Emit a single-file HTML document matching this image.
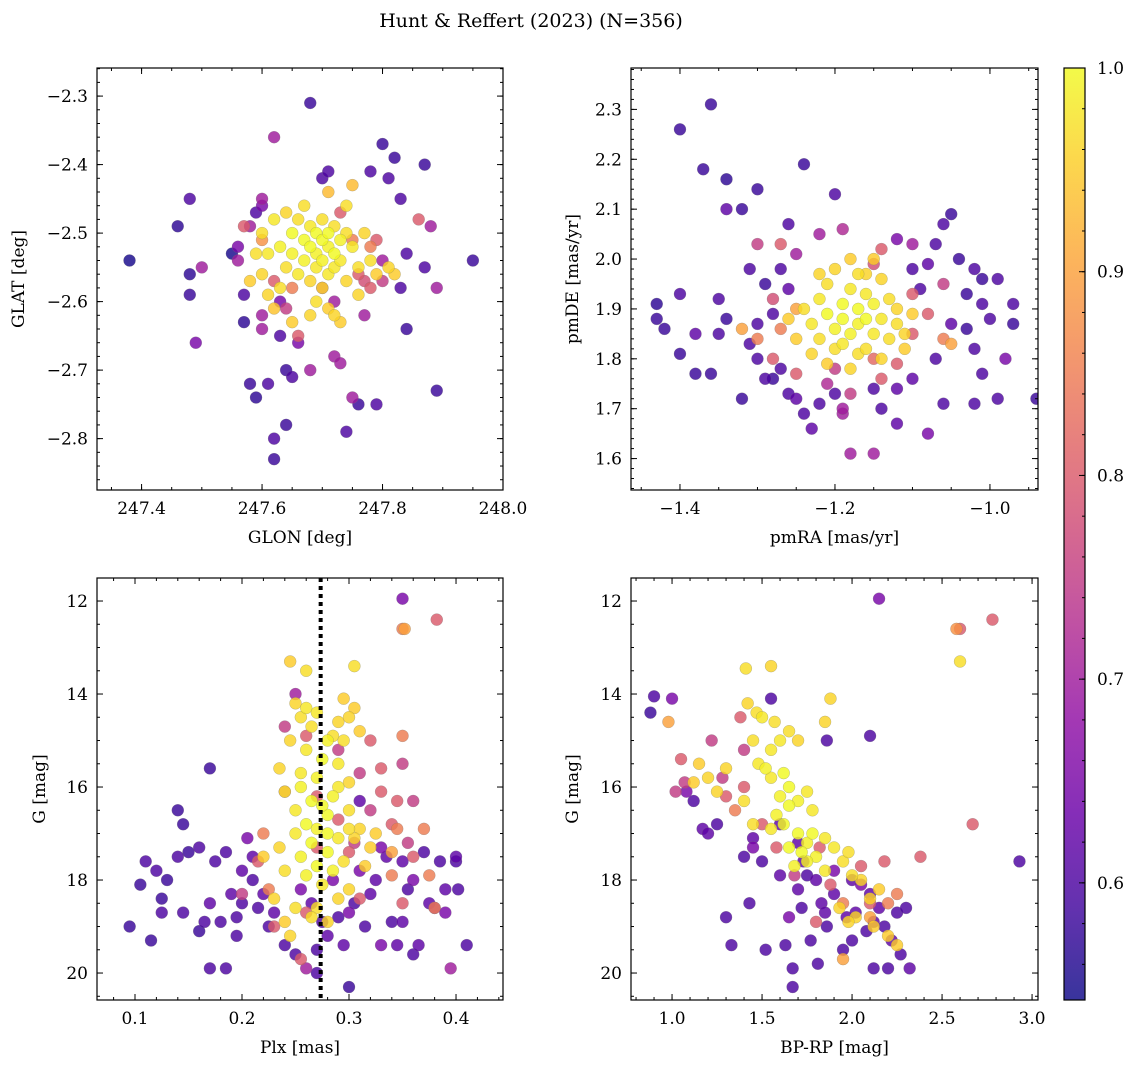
<!DOCTYPE html>
<html><head><meta charset="utf-8"><style>
body{margin:0;background:#fff;}
svg{display:block;font-family:"DejaVu Serif","Liberation Serif",serif;}
</style></head><body>
<svg id="fig" width="1136" height="1067" viewBox="0 0 1136 1067" xmlns="http://www.w3.org/2000/svg">
<defs><linearGradient id="cbg" x1="0" y1="1" x2="0" y2="0"></linearGradient></defs>
<text x="531" y="27" font-size="19" text-anchor="middle">Hunt &amp; Reffert (2023) (N=356)</text>
</svg>
<script>
// ---- data arrays: [x, y, membership probability]
const posData = [[247.38,-2.54,.55],[247.46,-2.49,.57],[247.48,-2.45,.6],[247.48,-2.56,.57],[247.48,-2.59,.58],[247.49,-2.66,.65],[247.5,-2.55,.7],[247.55,-2.53,.55],[247.56,-2.52,.65],[247.56,-2.54,.7],[247.57,-2.59,.6],[247.57,-2.63,.57],[247.58,-2.72,.58],[247.59,-2.74,.57],[247.6,-2.64,.7],[247.61,-2.72,.6],[247.62,-2.8,.6],[247.62,-2.83,.58],[247.62,-2.36,.7],[247.63,-2.65,.6],[247.64,-2.78,.58],[247.64,-2.7,.58],[247.65,-2.71,.6],[247.66,-2.66,.65],[247.68,-2.31,.58],[247.68,-2.7,.7],[247.7,-2.42,.6],[247.71,-2.41,.6],[247.72,-2.68,.7],[247.73,-2.69,.7],[247.74,-2.79,.6],[247.75,-2.74,.7],[247.76,-2.75,.58],[247.78,-2.41,.6],[247.79,-2.75,.6],[247.8,-2.37,.58],[247.81,-2.42,.6],[247.82,-2.39,.58],[247.83,-2.45,.6],[247.83,-2.58,.6],[247.84,-2.64,.58],[247.84,-2.53,.6],[247.87,-2.4,.58],[247.87,-2.55,.6],[247.86,-2.48,.8],[247.88,-2.49,.7],[247.89,-2.58,.7],[247.89,-2.73,.58],[247.95,-2.54,.58],[247.6,-2.45,.7],[247.6,-2.46,.65],[247.59,-2.47,.6],[247.58,-2.49,.7],[247.57,-2.49,.8],[247.6,-2.62,.7],[247.63,-2.6,.65],[247.62,-2.57,.8],[247.66,-2.65,.8],[247.7,-2.58,.75],[247.72,-2.6,.7],[247.75,-2.43,.93],[247.71,-2.44,.93],[247.73,-2.47,.8],[247.76,-2.56,.8],[247.78,-2.58,.8],[247.8,-2.57,.75],[247.77,-2.62,.7],[247.8,-2.54,.7],[247.78,-2.52,.85],[247.79,-2.51,.8],[247.65,-2.58,.85],[247.64,-2.61,.75],[247.75,-2.51,.85],[247.6,-2.51,.88],[247.77,-2.57,.78],
[247.60,-2.50,.97],[247.62,-2.48,.98],[247.63,-2.52,.99],[247.64,-2.55,.97],[247.65,-2.50,1],[247.65,-2.53,.99],[247.66,-2.56,.98],[247.66,-2.48,.97],[247.67,-2.51,1],[247.67,-2.54,.99],[247.68,-2.49,.98],[247.68,-2.52,1],[247.68,-2.57,.96],[247.69,-2.50,1],[247.69,-2.53,.99],[247.69,-2.55,.98],[247.70,-2.48,.97],[247.70,-2.51,1],[247.70,-2.54,.99],[247.70,-2.58,.96],[247.71,-2.50,1],[247.71,-2.52,.99],[247.71,-2.56,.98],[247.72,-2.49,.97],[247.72,-2.53,1],[247.72,-2.55,.98],[247.73,-2.51,.99],[247.73,-2.54,.98],[247.74,-2.50,.97],[247.74,-2.57,.96],[247.75,-2.52,.98],[247.76,-2.55,.97],[247.77,-2.50,.96],[247.78,-2.54,.97],[247.79,-2.56,.95],[247.81,-2.55,.96],[247.82,-2.56,.95],[247.60,-2.56,.96],[247.59,-2.53,.97],[247.58,-2.57,.95],[247.61,-2.59,.96],[247.62,-2.61,.94],[247.65,-2.63,.95],[247.68,-2.62,.96],[247.71,-2.61,.95],[247.73,-2.63,.95],[247.74,-2.46,.97],[247.72,-2.62,.96],[247.67,-2.46,.97],[247.64,-2.47,.96],[247.69,-2.60,.97],[247.76,-2.59,.96],[247.63,-2.58,.97],[247.61,-2.53,.98]];

const pmData = [[-1.40,2.26,.58],[-1.36,2.31,.58],[-1.37,2.18,.58],[-1.34,2.16,.57],[-1.32,2.10,.58],[-1.34,2.10,.62],[-1.3,2.14,.58],[-1.24,2.19,.58],[-1.2,2.13,.6],[-1.26,2.07,.6],[-1.43,1.91,.57],[-1.43,1.88,.58],[-1.42,1.86,.58],[-1.40,1.93,.6],[-1.40,1.81,.58],[-1.38,1.77,.58],[-1.36,1.77,.58],[-1.38,1.85,.62],[-1.35,1.92,.6],[-1.35,1.85,.6],[-1.34,1.88,.58],[-1.32,1.72,.58],[-1.31,1.83,.6],[-1.30,1.80,.6],[-1.30,1.87,.6],[-1.29,1.95,.58],[-1.28,1.76,.58],[-1.27,1.98,.6],[-1.26,1.73,.6],[-1.25,1.72,.62],[-1.24,1.69,.6],[-1.23,1.66,.62],[-1.22,1.71,.6],[-1.2,1.73,.6],[-1.19,1.69,.7],[-1.18,1.61,.7],[-1.15,1.61,.7],[-1.14,1.70,.6],[-1.12,1.67,.62],[-1.08,1.65,.65],[-1.06,1.71,.6],[-1.02,1.71,.6],[-0.99,1.72,.6],[-0.94,1.72,.58],[-0.92,1.71,.58],[-1.05,2.09,.58],[-1.06,2.07,.6],[-1.07,2.03,.6],[-1.04,2.00,.58],[-1.02,1.98,.6],[-1.01,1.96,.58],[-0.99,1.96,.6],[-1.03,1.93,.58],[-1.01,1.91,.6],[-1.03,1.86,.58],[-0.97,1.91,.6],[-0.97,1.87,.58],[-0.98,1.80,.65],[-1.01,1.77,.6],[-1.02,1.82,.6],[-1.0,1.88,.6],[-1.08,1.99,.62],[-1.1,1.98,.6],[-1.12,2.04,.65],[-1.09,1.94,.6],[-1.05,1.87,.62],[-1.07,1.80,.6],[-1.1,1.76,.62],[-1.12,1.74,.62],[-1.15,1.74,.6],[-1.27,1.78,.6],[-1.29,1.76,.6],[-1.31,1.98,.6],[-1.26,1.94,.62],[-1.28,1.89,.6],
[-1.30,2.03,.75],[-1.27,2.03,.8],[-1.25,2.01,.7],[-1.22,2.05,.7],[-1.19,2.06,.72],[-1.14,2.02,.8],[-1.1,2.03,.7],[-1.15,1.99,.78],[-1.1,1.93,.8],[-1.06,1.95,.75],[-1.08,1.89,.8],[-1.06,1.84,.85],[-1.05,1.83,.9],[-1.1,1.85,.8],[-1.12,1.79,.8],[-1.15,1.80,.82],[-1.2,1.78,.75],[-1.25,1.77,.8],[-1.28,1.8,.8],[-1.3,1.84,.85],[-1.32,1.86,.9],[-1.27,1.86,.85],[-1.25,1.9,.9],[-1.28,1.92,.78],[-1.21,1.75,.72],[-1.18,1.73,.75],[-1.14,1.76,.8],[-1.19,1.7,.7],
[-1.24,1.90,.97],[-1.23,1.87,.98],[-1.22,1.84,.97],[-1.22,1.92,.98],[-1.21,1.89,1],[-1.21,1.95,.97],[-1.20,1.86,.99],[-1.20,1.82,.97],[-1.19,1.91,1],[-1.19,1.88,1],[-1.18,1.94,.98],[-1.18,1.85,.99],[-1.17,1.90,1],[-1.17,1.87,.99],[-1.17,1.81,.97],[-1.16,1.93,.98],[-1.16,1.88,1],[-1.15,1.85,.98],[-1.15,1.91,.99],[-1.14,1.96,.96],[-1.14,1.88,.98],[-1.13,1.84,.97],[-1.13,1.92,.97],[-1.12,1.87,.97],[-1.12,1.9,.96],[-1.11,1.85,.96],[-1.2,1.98,.96],[-1.18,2.00,.95],[-1.16,1.97,.96],[-1.23,1.81,.96],[-1.21,1.79,.95],[-1.18,1.78,.96],[-1.25,1.84,.95],[-1.26,1.88,.95],[-1.11,1.82,.95],[-1.1,1.89,.95],[-1.19,1.83,.98],[-1.16,1.82,.97],[-1.15,2.0,.95],[-1.22,1.97,.96],[-1.14,1.80,.96],[-1.17,1.97,.97]];

const plxData = [[0.095,19.0,.58],[0.105,18.1,.58],[0.11,17.6,.6],[0.115,19.3,.58],[0.12,17.8,.6],[0.125,18.4,.58],[0.125,18.7,.6],[0.13,18.0,.58],[0.14,17.5,.6],[0.14,16.5,.58],[0.145,16.8,.58],[0.145,18.7,.6],[0.15,17.4,.58],[0.16,17.3,.6],[0.16,19.1,.58],[0.165,18.9,.6],[0.17,15.6,.58],[0.17,19.9,.6],[0.17,18.5,.62],[0.175,17.6,.6],[0.18,18.9,.6],[0.185,19.9,.6],[0.185,17.4,.6],[0.19,18.3,.62],[0.195,18.8,.6],[0.195,19.2,.6],[0.2,17.8,.62],[0.2,18.5,.6],[0.205,17.1,.65],[0.21,17.5,.62],[0.21,18.0,.6],[0.215,18.6,.6],[0.22,18.3,.62],[0.225,19.0,.6],[0.23,18.7,.62],[0.24,19.4,.6],[0.25,19.6,.6],[0.255,18.2,.65],[0.26,19.9,.7],[0.265,18.5,.62],[0.27,19.5,.6],[0.27,20.0,.6],[0.275,18.9,.6],[0.28,19.2,.62],[0.285,18.0,.65],[0.29,18.8,.6],[0.295,19.4,.62],[0.3,20.3,.58],[0.305,18.5,.6],[0.31,17.8,.65],[0.315,19.0,.6],[0.32,18.3,.62],[0.33,19.4,.65],[0.335,17.5,.62],[0.34,18.9,.6],[0.345,19.4,.62],[0.35,17.6,.62],[0.355,18.2,.6],[0.36,18.0,.65],[0.365,19.4,.62],[0.37,17.4,.6],[0.375,18.5,.62],[0.38,18.6,.65],[0.385,17.6,.6],[0.39,18.2,.62],[0.395,19.9,.7],[0.4,17.6,.6],[0.402,18.2,.6],[0.41,19.4,.6],[0.35,11.95,.65],[0.31,16.3,.62],[0.3,18.7,.65],[0.325,18.0,.62],[0.35,18.9,.62],[0.36,19.6,.6],[0.33,17.3,.65],[0.39,18.7,.65],[0.4,17.5,.62],
[0.35,12.6,.85],[0.352,12.6,.9],[0.382,12.4,.8],[0.305,17.2,.75],[0.32,16.5,.75],[0.33,16.1,.8],[0.34,16.8,.8],[0.345,16.9,.85],[0.355,17.2,.75],[0.36,17.5,.8],[0.37,16.9,.85],[0.375,17.9,.85],[0.38,18.6,.85],[0.345,16.3,.8],[0.31,15.7,.75],[0.32,15.0,.8],[0.33,15.6,.8],[0.35,15.5,.75],[0.36,16.3,.75],[0.29,15.2,.75],[0.25,14.0,.7],[0.24,14.7,.75],[0.26,14.9,.8],[0.24,16.1,.8],[0.22,17.0,.85],[0.215,17.6,.8],[0.225,18.2,.85],[0.23,19.0,.8],[0.26,18.7,.8],[0.27,17.3,.8],[0.3,17.4,.8],[0.31,18.4,.8],[0.35,18.5,.8],[0.35,14.9,.85],[0.34,17.4,.9],[0.29,16.7,.8],[0.255,19.7,.8],[0.27,16.2,.8],[0.34,17.9,.85],[0.2,18.3,.75],
[0.245,13.3,.95],[0.26,13.5,.97],[0.305,13.4,.97],[0.25,14.2,.96],[0.255,14.5,.97],[0.26,14.3,.98],[0.265,14.7,.97],[0.27,14.4,.98],[0.285,14.9,.97],[0.29,14.6,.96],[0.295,14.1,.95],[0.3,14.5,.96],[0.305,14.3,.95],[0.31,14.8,.95],[0.245,15.0,.96],[0.26,15.2,.98],[0.275,15.4,1],[0.28,15.0,.99],[0.29,15.5,.98],[0.295,15.0,.97],[0.3,15.9,.96],[0.235,15.6,.96],[0.24,16.1,.97],[0.25,16.5,.98],[0.255,16.0,.99],[0.26,16.8,1],[0.265,16.3,1],[0.27,16.9,.99],[0.28,16.6,1],[0.285,16.2,.99],[0.29,16.0,.98],[0.3,16.5,.97],[0.31,16.9,.96],[0.305,17.1,.96],[0.32,17.3,.95],[0.235,17.3,.96],[0.24,17.8,.97],[0.25,17.0,.98],[0.255,17.5,.99],[0.26,17.9,.99],[0.265,17.2,1],[0.27,17.7,1],[0.275,18.1,.98],[0.28,17.4,1],[0.285,17.8,.99],[0.29,17.1,.98],[0.295,17.6,.97],[0.3,18.2,.96],[0.23,18.4,.96],[0.24,18.9,.95],[0.245,19.2,.96],[0.25,18.6,.97],[0.27,18.6,.97],[0.28,18.9,.96],[0.29,18.4,.96],[0.22,17.5,.95],[0.315,17.7,.95],[0.325,17.0,.95],[0.27,15.8,.99],[0.28,17.0,1],[0.265,18.8,.97],[0.255,15.7,.98],[0.275,16.4,1],[0.3,16.9,.97]];

const cmdData = [[0.88,14.4,.58],[0.9,14.05,.6],[1.0,14.1,.65],[1.08,16.1,.65],[1.12,16.3,.6],[1.17,16.9,.62],[1.25,16.8,.6],[1.2,17.0,.62],[1.3,18.8,.6],[1.33,19.4,.6],[1.4,17.5,.6],[1.43,18.5,.6],[1.45,17.1,.62],[1.5,17.6,.6],[1.52,19.5,.6],[1.55,14.1,.6],[1.6,17.9,.62],[1.63,19.4,.6],[1.65,18.8,.65],[1.67,19.9,.6],[1.67,20.3,.6],[1.7,18.2,.62],[1.72,18.6,.6],[1.73,17.6,.62],[1.77,19.3,.6],[1.8,18.0,.62],[1.81,19.8,.6],[1.83,18.5,.62],[1.86,15.0,.6],[1.86,19.0,.6],[1.9,18.3,.62],[1.95,19.5,.6],[1.97,18.8,.62],[2.0,19.3,.6],[2.02,18.7,.62],[2.05,18.1,.65],[2.08,19.1,.6],[2.1,14.9,.6],[2.12,19.9,.6],[2.15,11.95,.65],[2.15,18.6,.62],[2.18,19.0,.6],[2.2,19.9,.6],[2.22,19.3,.62],[2.25,18.7,.6],[2.27,19.6,.6],[2.3,18.6,.6],[2.32,19.9,.62],[2.93,17.6,.6],[1.7,17.2,.62],[1.9,17.8,.65],[2.1,18.3,.62],[1.85,18.7,.62],[1.6,16.8,.62],[1.45,17.3,.65],[2.0,18.0,.62],[2.12,18.9,.62],[1.75,17.9,.6],
[0.98,14.6,.9],[1.05,15.4,.8],[1.02,16.1,.75],[1.07,15.9,.75],[1.22,15.0,.75],[1.38,14.5,.8],[1.4,15.2,.75],[1.4,16.0,.8],[2.58,12.6,.88],[2.6,12.6,.8],[2.78,12.4,.8],[2.67,16.8,.8],[2.38,17.5,.8],[2.18,17.6,.8],[2.2,18.5,.85],[2.1,18.8,.9],[1.95,19.7,.9],[1.95,18.5,.85],[1.88,18.1,.8],[1.82,17.3,.8],[1.68,17.9,.75],[1.58,17.3,.8],[1.5,16.8,.8],[1.35,16.5,.85],[1.3,16.2,.8],[1.28,15.8,.75],[2.05,17.7,.8],[2.25,18.3,.85],[2.1,18.5,.8],[1.8,18.9,.8],
[1.41,13.45,.97],[1.55,13.4,.96],[2.6,13.3,.97],[1.42,14.2,.96],[1.47,14.4,.97],[1.5,14.5,.98],[1.57,14.6,.97],[1.6,15.0,.98],[1.65,14.8,.97],[1.7,15.0,.96],[1.88,14.1,.96],[1.85,14.6,.96],[1.45,15.0,.97],[1.48,15.5,.98],[1.52,15.6,.99],[1.55,15.2,.98],[1.62,15.7,1],[1.65,16.0,1],[1.7,16.3,.99],[1.65,16.4,1],[1.75,16.1,.98],[1.58,16.6,.99],[1.62,16.8,1],[1.7,17.0,1],[1.75,17.2,.99],[1.78,17.0,1],[1.8,17.5,.99],[1.85,17.1,.98],[1.9,17.3,.98],[1.95,17.6,.97],[1.98,17.4,.97],[2.0,17.9,.97],[2.05,18.0,.96],[2.1,18.4,.96],[2.15,18.2,.95],[1.85,17.8,.98],[1.75,17.6,.99],[1.72,17.4,1],[1.68,17.7,.99],[1.65,17.3,1],[1.55,16.9,.98],[1.45,16.8,.97],[1.4,16.3,.97],[1.25,16.1,.96],[1.2,15.8,.96],[1.15,15.5,.95],[1.12,15.9,.95],[1.3,15.6,.96],[1.93,18.6,.96],[2.02,18.8,.96],[2.2,19.2,.95],[2.25,19.4,.95],[1.98,18.9,.96],[1.6,16.2,.99],[1.55,15.8,.98],[1.78,16.5,.98],[2.12,19.0,.95]];

const plxCut = 0.2735;
const cbTicks = [0.6,0.7,0.8,0.9,1.0];
const cbMin = 0.5425, cbMax = 1.0;

const NS='http://www.w3.org/2000/svg';
const svg=document.getElementById('fig');
function mk(t,a,p){const e=document.createElementNS(NS,t);for(const k in a)e.setAttribute(k,a[k]);(p||svg).appendChild(e);return e;}
const stops=['#0d0887','#41049d','#6a00a8','#8f0da4','#b12a90','#cc4778','#e16462','#f2844b','#fca636','#fcce25','#f0f921'];
function hx(h){return [1,3,5].map(i=>parseInt(h.substr(i,2),16));}
function plasma(t){t=Math.max(0,Math.min(1,t));const f=t*10,i=Math.min(9,Math.floor(f)),r=f-i;const a=hx(stops[i]),b=hx(stops[i+1]);return 'rgb('+a.map((v,k)=>Math.round(v+(b[k]-v)*r)).join(',')+')';}
function col(p){return plasma((p-cbMin)/(cbMax-cbMin));}

function panel(o){
  const {x0,x1,y0,y1,xd,yd,name}=o;
  const sx=v=>x0+(v-xd[0])/(xd[1]-xd[0])*(x1-x0);
  const sy=v=>y1-(v-yd[0])/(yd[1]-yd[0])*(y1-y0);
  const g=mk('g',{});
  
  
  const cid='c'+name;
  const cp=mk('clipPath',{id:cid},g);mk('rect',{x:x0,y:y0,width:x1-x0,height:y1-y0},cp);
  const pts=mk('g',{'clip-path':'url(#'+cid+')'},g);
  
  
  const sorted=o.data.slice().sort((a,b)=>a[2]-b[2]);
  sorted.forEach(d=>{const c=mk('circle',{cx:sx(d[0]),cy:sy(d[1]),r:6,fill:col(d[2]),'fill-opacity':0.82,stroke:'#777','stroke-width':0.4,'stroke-opacity':0.6},pts);
    
    });
  if(o.vline!==undefined){const l=mk('line',{x1:sx(o.vline),x2:sx(o.vline),y1:y0,y2:y1,stroke:'#000','stroke-width':4,'stroke-dasharray':'4,4'},g);
    
    }
  mk('rect',{x:x0,y:y0,width:x1-x0,height:y1-y0,fill:'none',stroke:'#000','stroke-width':1.2},g);
  const eps=1e-9;
  function ticks(step,dom){const lo=Math.min(dom[0],dom[1]),hi=Math.max(dom[0],dom[1]);const a=[];let s=Math.ceil(lo/step-eps)*step;for(let v=s;v<=hi+eps;v+=step)a.push(+v.toFixed(6));return a;}
  ticks(o.xminor,xd).forEach(v=>{const X=sx(v);mk('line',{x1:X,x2:X,y1:y1,y2:y1-3,stroke:'#000'},g);mk('line',{x1:X,x2:X,y1:y0,y2:y0+3,stroke:'#000'},g);});
  ticks(o.yminor,yd).forEach(v=>{const Y=sy(v);mk('line',{x1:x0,x2:x0+3,y1:Y,y2:Y,stroke:'#000'},g);mk('line',{x1:x1,x2:x1-3,y1:Y,y2:Y,stroke:'#000'},g);});
  ticks(o.xmajor,xd).forEach(v=>{const X=sx(v);mk('line',{x1:X,x2:X,y1:y1,y2:y1-6,stroke:'#000'},g);mk('line',{x1:X,x2:X,y1:y0,y2:y0+6,stroke:'#000'},g);
    const t=mk('text',{x:X,y:y1+24,'font-size':17,'text-anchor':'middle'},g);t.textContent=v.toFixed(o.xdec).replace('-','\u2212');
    
    });
  ticks(o.ymajor,yd).forEach(v=>{const Y=sy(v);mk('line',{x1:x0,x2:x0+6,y1:Y,y2:Y,stroke:'#000'},g);mk('line',{x1:x1,x2:x1-6,y1:Y,y2:Y,stroke:'#000'},g);
    const t=mk('text',{x:x0-9,y:Y+6,'font-size':17,'text-anchor':'end'},g);t.textContent=v.toFixed(o.ydec).replace('-','\u2212');
    
    });
  const xl=mk('text',{x:(x0+x1)/2,y:y1+53,'font-size':17,'text-anchor':'middle'},g);xl.textContent=o.xlabel;
  
  
  const yl=mk('text',{x:0,y:0,'font-size':17,'text-anchor':'middle',transform:'translate('+o.ylx+','+(y0+y1)/2+') rotate(-90)'},g);yl.textContent=o.ylabel;
  
  
}
panel({name:'position',x0:97,x1:503,y0:68,y1:490,xd:[247.326,248.0],yd:[-2.875,-2.259],data:posData,xmajor:0.2,xminor:0.05,ymajor:0.1,yminor:0.02,xdec:1,ydec:1,xlabel:'GLON [deg]',ylabel:'GLAT [deg]',ylx:24});
panel({name:'proper-motion',x0:631,x1:1038,y0:68,y1:490,xd:[-1.4632,-0.938],yd:[1.537,2.383],data:pmData,xmajor:0.2,xminor:0.05,ymajor:0.1,yminor:0.02,xdec:1,ydec:1,xlabel:'pmRA [mas/yr]',ylabel:'pmDE [mas/yr]',ylx:578});
panel({name:'parallax-magnitude',x0:97,x1:503,y0:578,y1:1000,xd:[0.0645,0.4439],yd:[20.58,11.505],data:plxData,xmajor:0.1,xminor:0.02,ymajor:2,yminor:0.5,xdec:1,ydec:0,xlabel:'Plx [mas]',ylabel:'G [mag]',ylx:45,vline:plxCut});
panel({name:'color-magnitude',x0:631,x1:1038,y0:578,y1:1000,xd:[0.772,3.033],yd:[20.58,11.505],data:cmdData,xmajor:0.5,xminor:0.1,ymajor:2,yminor:0.5,xdec:1,ydec:0,xlabel:'BP-RP [mag]',ylabel:'G [mag]',ylx:578});

// colorbar
(function(){
  const cx0=1064,cx1=1085,cy0=68,cy1=1000;
  const g=mk('g',{});
  
  
  const grad=document.getElementById('cbg');
  for(let i=0;i<=20;i++){mk('stop',{offset:i/20,'stop-color':plasma(i/20)},grad);}
  mk('rect',{x:cx0,y:cy0,width:cx1-cx0,height:cy1-cy0,fill:'url(#cbg)','fill-opacity':0.82},g);
  mk('rect',{x:cx0,y:cy0,width:cx1-cx0,height:cy1-cy0,fill:'none',stroke:'#000','stroke-width':1.2},g);
  const sy=v=>cy1-(v-cbMin)/(cbMax-cbMin)*(cy1-cy0);
  for(let v=0.56;v<=1.0001;v+=0.02){const Y=sy(v);mk('line',{x1:cx1,x2:cx1-3,y1:Y,y2:Y,stroke:'#000'},g);}
  cbTicks.forEach(v=>{const Y=sy(v);mk('line',{x1:cx1,x2:cx1-6,y1:Y,y2:Y,stroke:'#000'},g);
    const t=mk('text',{x:cx1+12,y:Y+6,'font-size':17},g);t.textContent=v.toFixed(1);
    
    });
})();
</script>
</body></html>
